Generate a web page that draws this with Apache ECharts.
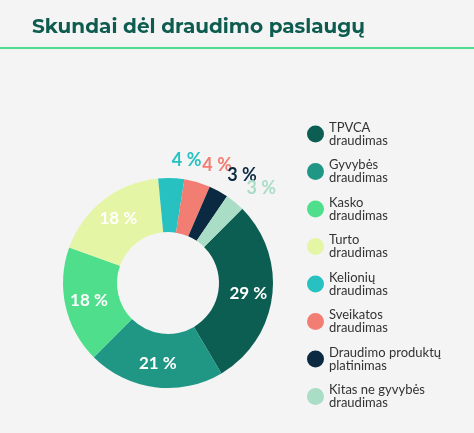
<!DOCTYPE html>
<html><head><meta charset="utf-8">
<script src="https://cdn.jsdelivr.net/npm/echarts@6/dist/echarts.min.js"></script>
<style>html,body{margin:0;background:#f4f4f4}#c{width:474px;height:433px}</style>
</head><body><div id="c"></div>
<script>
const categories = ["TPVCA\ndraudimas","Gyvybės\ndraudimas","Kasko\ndraudimas","Turto\ndraudimas","Kelionių\ndraudimas","Sveikatos\ndraudimas","Draudimo produktų\nplatinimas","Kitas ne gyvybės\ndraudimas"];
const values = [29,21,18,18,4,4,3,3];
const colors = ["#0b5e51","#1f9784","#4fdf8c","#e4f5a6","#27c1c1","#f27d72","#0b2940","#a9ddc6"];
const inside = [true,true,true,true,false,false,false,false];
const chart = echarts.init(document.getElementById('c'));
chart.setOption({
  backgroundColor:'#f4f4f4',
  title:{text:'Skundai dėl draudimo paslaugų',left:27,top:12,textStyle:{fontFamily:'Montserrat, Lato, sans-serif',fontSize:20,fontWeight:'bold',color:'#0d5c4f'}},
  graphic:[{type:'rect',shape:{x:0,y:47,width:474,height:2},style:{fill:'#4fdf8c'}}],
  legend:{orient:'vertical',left:302,top:116,itemGap:11.5,icon:'circle',itemWidth:17,itemHeight:17,
    textStyle:{fontFamily:'Lato, sans-serif',fontSize:13,lineHeight:13,color:'#333'},
    data:categories},
  series:[{type:'pie',center:[168,283],radius:[51,105],startAngle:45,silent:true,
    avoidLabelOverlap:false,
    labelLayout:{hideOverlap:false,moveOverlap:null},
    data:values.map((v,i)=>({name:categories[i],value:v,itemStyle:{color:colors[i]},
      label:inside[i]?{position:'inside',color:'#fff',fontSize:17,fontWeight:'bold'}:
        {position:'outside',color:colors[i],fontSize:18,fontWeight:'bold',distanceToLabelLine:0},
      labelLine:{show:false,length:18,length2:0}})),
    label:{formatter:'{c} %',fontFamily:'Lato, sans-serif'}
  }]
});
</script></body></html>
